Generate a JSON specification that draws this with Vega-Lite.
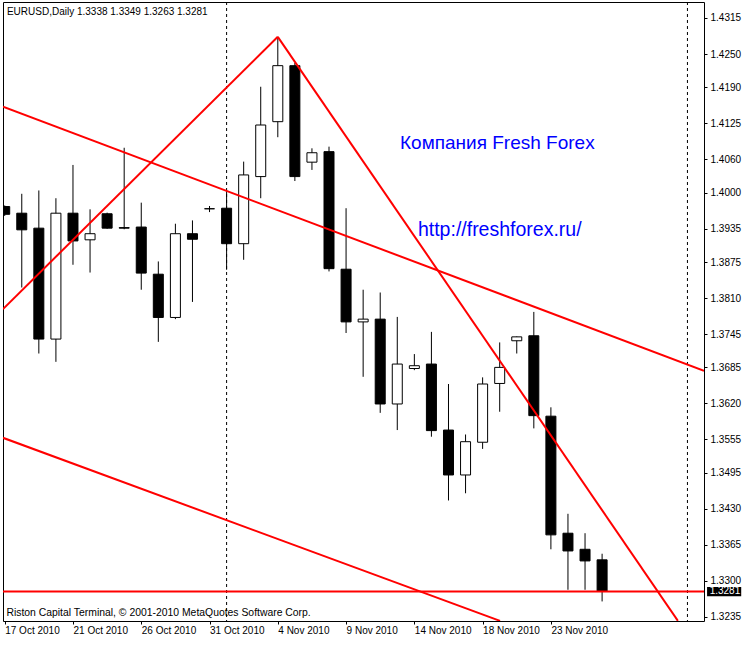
{
  "$schema": "https://vega.github.io/schema/vega-lite/v6.json",
  "width": 701,
  "height": 619,
  "autosize": {"type": "none"},
  "padding": {"left": 3, "top": 2, "right": 45, "bottom": 24},
  "background": "white",
  "config": {
    "view": {"stroke": "black", "strokeWidth": 1},
    "font": "Liberation Sans",
    "scale": {"continuousPadding": 0},
    "axisX": {"tickSize": 3, "tickColor": "black", "labelAlign": "left", "labelBaseline": "top", "labelPadding": 1, "labelFontSize": 10, "labelColor": "black", "labelFont": "Liberation Sans", "labelFlush": false, "labelOverlap": false, "labelBound": false, "domain": false, "grid": false},
    "axisY": {"tickSize": 3, "tickColor": "black", "labelAlign": "left", "labelPadding": 3, "labelFontSize": 10, "labelColor": "black", "labelFont": "Liberation Sans", "labelBaseline": "middle", "labelOverlap": false, "labelBound": false, "labelFlush": false, "domain": false, "grid": false}
  },
  "datasets": {
    "bars": [
      {"i": 0, "d": "17 Oct", "o": 1.3975, "h": 1.3977, "l": 1.3958, "c": 1.3961},
      {"i": 1, "d": "18 Oct", "o": 1.3963, "h": 1.3998, "l": 1.3829, "c": 1.3933},
      {"i": 2, "d": "19 Oct", "o": 1.3936, "h": 1.4004, "l": 1.3710, "c": 1.3736},
      {"i": 3, "d": "20 Oct", "o": 1.3736, "h": 1.3990, "l": 1.3695, "c": 1.3963},
      {"i": 4, "d": "21 Oct", "o": 1.3963, "h": 1.4050, "l": 1.3870, "c": 1.3913},
      {"i": 5, "d": "22 Oct", "o": 1.3915, "h": 1.3970, "l": 1.3856, "c": 1.3926},
      {"i": 6, "d": "24 Oct", "o": 1.3962, "h": 1.3964, "l": 1.3935, "c": 1.3936},
      {"i": 7, "d": "25 Oct", "o": 1.3937, "h": 1.4081, "l": 1.3934, "c": 1.3936},
      {"i": 8, "d": "26 Oct", "o": 1.3938, "h": 1.3982, "l": 1.3825, "c": 1.3855},
      {"i": 9, "d": "27 Oct", "o": 1.3853, "h": 1.3876, "l": 1.3731, "c": 1.3775},
      {"i": 10, "d": "28 Oct", "o": 1.3775, "h": 1.3944, "l": 1.3772, "c": 1.3926},
      {"i": 11, "d": "29 Oct", "o": 1.3926, "h": 1.3950, "l": 1.3803, "c": 1.3916},
      {"i": 12, "d": "31 Oct", "o": 1.3971, "h": 1.3976, "l": 1.3965, "c": 1.3971},
      {"i": 13, "d": "1 Nov", "o": 1.3972, "h": 1.4005, "l": 1.3861, "c": 1.3908},
      {"i": 14, "d": "2 Nov", "o": 1.3908, "h": 1.4056, "l": 1.3879, "c": 1.4032},
      {"i": 15, "d": "3 Nov", "o": 1.4029, "h": 1.4191, "l": 1.3990, "c": 1.4122},
      {"i": 16, "d": "4 Nov", "o": 1.4128, "h": 1.4281, "l": 1.4100, "c": 1.4229},
      {"i": 17, "d": "5 Nov", "o": 1.4229, "h": 1.4234, "l": 1.4021, "c": 1.4029},
      {"i": 18, "d": "7 Nov", "o": 1.4055, "h": 1.4080, "l": 1.4041, "c": 1.4072},
      {"i": 19, "d": "8 Nov", "o": 1.4074, "h": 1.4083, "l": 1.3858, "c": 1.3863},
      {"i": 20, "d": "9 Nov", "o": 1.3862, "h": 1.3972, "l": 1.3747, "c": 1.3767},
      {"i": 21, "d": "10 Nov", "o": 1.3767, "h": 1.3825, "l": 1.3668, "c": 1.3772},
      {"i": 22, "d": "11 Nov", "o": 1.3772, "h": 1.3820, "l": 1.3603, "c": 1.3619},
      {"i": 23, "d": "12 Nov", "o": 1.3619, "h": 1.3776, "l": 1.3572, "c": 1.3691},
      {"i": 24, "d": "14 Nov", "o": 1.3683, "h": 1.3709, "l": 1.3680, "c": 1.3688},
      {"i": 25, "d": "15 Nov", "o": 1.3691, "h": 1.3749, "l": 1.3560, "c": 1.3571},
      {"i": 26, "d": "16 Nov", "o": 1.3572, "h": 1.3655, "l": 1.3445, "c": 1.3491},
      {"i": 27, "d": "17 Nov", "o": 1.3491, "h": 1.3564, "l": 1.3458, "c": 1.3551},
      {"i": 28, "d": "18 Nov", "o": 1.3550, "h": 1.3667, "l": 1.3538, "c": 1.3655},
      {"i": 29, "d": "19 Nov", "o": 1.3656, "h": 1.3730, "l": 1.3605, "c": 1.3685},
      {"i": 30, "d": "21 Nov", "o": 1.3733, "h": 1.3741, "l": 1.3710, "c": 1.3740},
      {"i": 31, "d": "22 Nov", "o": 1.3742, "h": 1.3785, "l": 1.3575, "c": 1.3598},
      {"i": 32, "d": "23 Nov", "o": 1.3597, "h": 1.3613, "l": 1.3357, "c": 1.3383},
      {"i": 33, "d": "24 Nov", "o": 1.3386, "h": 1.3421, "l": 1.3284, "c": 1.3354},
      {"i": 34, "d": "25 Nov", "o": 1.3357, "h": 1.3386, "l": 1.3284, "c": 1.3336},
      {"i": 35, "d": "26 Nov", "o": 1.3338, "h": 1.3349, "l": 1.3263, "c": 1.3281}
    ],
    "trend": [
      {"line": "A", "i": -0.1, "p": 1.3790},
      {"line": "A", "i": 16, "p": 1.4281},
      {"line": "B", "i": 16, "p": 1.4281},
      {"line": "B", "i": 39.44, "p": 1.3228},
      {"line": "C", "i": -0.1, "p": 1.4155},
      {"line": "C", "i": 40.97, "p": 1.3679},
      {"line": "D", "i": -0.1, "p": 1.3558},
      {"line": "D", "i": 29.02, "p": 1.3228},
      {"line": "H", "i": -0.1, "p": 1.3281},
      {"line": "H", "i": 40.97, "p": 1.3281}
    ],
    "seps": [{"i": 13}, {"i": 40}]
  },
  "layer": [
    {
      "data": {"name": "seps"},
      "mark": {"type": "rule", "color": "black", "strokeWidth": 1, "strokeDash": [3, 3]},
      "encoding": {
        "x": {"field": "i", "type": "quantitative", "scale": {"domain": [-0.1, 40.97], "nice": false, "zero": false, "padding": 0},
          "axis": {"title": null, "values": [0, 4, 8, 12, 16, 20, 24, 28, 32], "labelExpr": "['17 Oct 2010','21 Oct 2010','26 Oct 2010','31 Oct 2010','4 Nov 2010','9 Nov 2010','14 Nov 2010','18 Nov 2010','23 Nov 2010'][round(datum.value/4)]"}}
      }
    },
    {
      "data": {"name": "bars"},
      "mark": {"type": "rule", "color": "black", "strokeWidth": 1, "clip": true},
      "encoding": {
        "x": {"field": "i", "type": "quantitative", "scale": {"domain": [-0.1, 40.97], "nice": false, "zero": false, "padding": 0},
          "axis": {"title": null, "values": [0, 4, 8, 12, 16, 20, 24, 28, 32], "labelExpr": "['17 Oct 2010','21 Oct 2010','26 Oct 2010','31 Oct 2010','4 Nov 2010','9 Nov 2010','14 Nov 2010','18 Nov 2010','23 Nov 2010'][round(datum.value/4)]"}},
        "y": {"field": "l", "type": "quantitative", "scale": {"domain": [1.32277, 1.43438], "nice": false, "zero": false, "padding": 0},
          "axis": {"title": null, "orient": "right", "values": [1.4315, 1.425, 1.419, 1.4125, 1.406, 1.4, 1.3935, 1.3875, 1.381, 1.3745, 1.3685, 1.362, 1.3555, 1.3495, 1.343, 1.3365, 1.33, 1.3235], "format": ".4f"}},
        "y2": {"field": "h"}
      }
    },
    {
      "data": {"name": "bars"},
      "mark": {"type": "bar", "width": 10, "stroke": "black", "strokeWidth": 1, "clip": true},
      "encoding": {
        "x": {"field": "i", "type": "quantitative", "scale": {"domain": [-0.1, 40.97], "nice": false, "zero": false, "padding": 0},
          "axis": {"title": null, "values": [0, 4, 8, 12, 16, 20, 24, 28, 32], "labelExpr": "['17 Oct 2010','21 Oct 2010','26 Oct 2010','31 Oct 2010','4 Nov 2010','9 Nov 2010','14 Nov 2010','18 Nov 2010','23 Nov 2010'][round(datum.value/4)]"}},
        "y": {"field": "o", "type": "quantitative", "scale": {"domain": [1.32277, 1.43438], "nice": false, "zero": false, "padding": 0},
          "axis": {"title": null, "orient": "right", "values": [1.4315, 1.425, 1.419, 1.4125, 1.406, 1.4, 1.3935, 1.3875, 1.381, 1.3745, 1.3685, 1.362, 1.3555, 1.3495, 1.343, 1.3365, 1.33, 1.3235], "format": ".4f"}},
        "y2": {"field": "c"},
        "fill": {"condition": {"test": "datum.c < datum.o", "value": "black"}, "value": "white"}
      }
    },
    {
      "data": {"name": "trend"},
      "mark": {"type": "line", "color": "#ff0000", "strokeWidth": 2, "clip": true},
      "encoding": {
        "x": {"field": "i", "type": "quantitative", "scale": {"domain": [-0.1, 40.97], "nice": false, "zero": false, "padding": 0},
          "axis": {"title": null, "values": [0, 4, 8, 12, 16, 20, 24, 28, 32], "labelExpr": "['17 Oct 2010','21 Oct 2010','26 Oct 2010','31 Oct 2010','4 Nov 2010','9 Nov 2010','14 Nov 2010','18 Nov 2010','23 Nov 2010'][round(datum.value/4)]"}},
        "y": {"field": "p", "type": "quantitative", "scale": {"domain": [1.32277, 1.43438], "nice": false, "zero": false, "padding": 0},
          "axis": {"title": null, "orient": "right", "values": [1.4315, 1.425, 1.419, 1.4125, 1.406, 1.4, 1.3935, 1.3875, 1.381, 1.3745, 1.3685, 1.362, 1.3555, 1.3495, 1.343, 1.3365, 1.33, 1.3235], "format": ".4f"}},
        "detail": {"field": "line"}
      }
    },
    {
      "data": {"values": [{"t": "EURUSD,Daily  1.3338 1.3349 1.3263 1.3281"}]},
      "mark": {"type": "text", "align": "left", "baseline": "middle", "font": "Liberation Sans", "fontSize": 10, "color": "black"},
      "encoding": {
        "x": {"datum": 0.13, "type": "quantitative", "scale": {"domain": [-0.1, 40.97], "nice": false, "zero": false, "padding": 0},
          "axis": {"title": null, "values": [0, 4, 8, 12, 16, 20, 24, 28, 32], "labelExpr": "['17 Oct 2010','21 Oct 2010','26 Oct 2010','31 Oct 2010','4 Nov 2010','9 Nov 2010','14 Nov 2010','18 Nov 2010','23 Nov 2010'][round(datum.value/4)]"}},
        "y": {"datum": 1.4326, "type": "quantitative", "scale": {"domain": [1.32277, 1.43438], "nice": false, "zero": false, "padding": 0},
          "axis": {"title": null, "orient": "right", "values": [1.4315, 1.425, 1.419, 1.4125, 1.406, 1.4, 1.3935, 1.3875, 1.381, 1.3745, 1.3685, 1.362, 1.3555, 1.3495, 1.343, 1.3365, 1.33, 1.3235], "format": ".4f"}},
        "text": {"field": "t"}
      }
    },
    {
      "data": {"values": [{"t": "Riston Capital Terminal, © 2001-2010 MetaQuotes Software Corp."}]},
      "mark": {"type": "text", "align": "left", "baseline": "middle", "font": "Liberation Sans", "fontSize": 10.4, "color": "black"},
      "encoding": {
        "x": {"datum": 0.1, "type": "quantitative", "scale": {"domain": [-0.1, 40.97], "nice": false, "zero": false, "padding": 0},
          "axis": {"title": null, "values": [0, 4, 8, 12, 16, 20, 24, 28, 32], "labelExpr": "['17 Oct 2010','21 Oct 2010','26 Oct 2010','31 Oct 2010','4 Nov 2010','9 Nov 2010','14 Nov 2010','18 Nov 2010','23 Nov 2010'][round(datum.value/4)]"}},
        "y": {"datum": 1.3242, "type": "quantitative", "scale": {"domain": [1.32277, 1.43438], "nice": false, "zero": false, "padding": 0},
          "axis": {"title": null, "orient": "right", "values": [1.4315, 1.425, 1.419, 1.4125, 1.406, 1.4, 1.3935, 1.3875, 1.381, 1.3745, 1.3685, 1.362, 1.3555, 1.3495, 1.343, 1.3365, 1.33, 1.3235], "format": ".4f"}},
        "text": {"field": "t"}
      }
    },
    {
      "data": {"values": [{"t": "Компания Fresh Forex"}]},
      "mark": {"type": "text", "align": "left", "baseline": "middle", "font": "Liberation Sans", "fontSize": 19, "color": "#0000ff"},
      "encoding": {
        "x": {"datum": 23.16, "type": "quantitative", "scale": {"domain": [-0.1, 40.97], "nice": false, "zero": false, "padding": 0},
          "axis": {"title": null, "values": [0, 4, 8, 12, 16, 20, 24, 28, 32], "labelExpr": "['17 Oct 2010','21 Oct 2010','26 Oct 2010','31 Oct 2010','4 Nov 2010','9 Nov 2010','14 Nov 2010','18 Nov 2010','23 Nov 2010'][round(datum.value/4)]"}},
        "y": {"datum": 1.4090, "type": "quantitative", "scale": {"domain": [1.32277, 1.43438], "nice": false, "zero": false, "padding": 0},
          "axis": {"title": null, "orient": "right", "values": [1.4315, 1.425, 1.419, 1.4125, 1.406, 1.4, 1.3935, 1.3875, 1.381, 1.3745, 1.3685, 1.362, 1.3555, 1.3495, 1.343, 1.3365, 1.33, 1.3235], "format": ".4f"}},
        "text": {"field": "t"}
      }
    },
    {
      "data": {"values": [{"t": "http://freshforex.ru/"}]},
      "mark": {"type": "text", "align": "left", "baseline": "middle", "font": "Liberation Sans", "fontSize": 19.5, "color": "#0000ff"},
      "encoding": {
        "x": {"datum": 24.21, "type": "quantitative", "scale": {"domain": [-0.1, 40.97], "nice": false, "zero": false, "padding": 0},
          "axis": {"title": null, "values": [0, 4, 8, 12, 16, 20, 24, 28, 32], "labelExpr": "['17 Oct 2010','21 Oct 2010','26 Oct 2010','31 Oct 2010','4 Nov 2010','9 Nov 2010','14 Nov 2010','18 Nov 2010','23 Nov 2010'][round(datum.value/4)]"}},
        "y": {"datum": 1.3933, "type": "quantitative", "scale": {"domain": [1.32277, 1.43438], "nice": false, "zero": false, "padding": 0},
          "axis": {"title": null, "orient": "right", "values": [1.4315, 1.425, 1.419, 1.4125, 1.406, 1.4, 1.3935, 1.3875, 1.381, 1.3745, 1.3685, 1.362, 1.3555, 1.3495, 1.343, 1.3365, 1.33, 1.3235], "format": ".4f"}},
        "text": {"field": "t"}
      }
    },
    {
      "data": {"values": [{"t": "1.3281"}]},
      "mark": {"type": "rect", "color": "black", "clip": false},
      "encoding": {
        "x": {"datum": 41.15, "type": "quantitative", "scale": {"domain": [-0.1, 40.97], "nice": false, "zero": false, "padding": 0},
          "axis": {"title": null, "values": [0, 4, 8, 12, 16, 20, 24, 28, 32], "labelExpr": "['17 Oct 2010','21 Oct 2010','26 Oct 2010','31 Oct 2010','4 Nov 2010','9 Nov 2010','14 Nov 2010','18 Nov 2010','23 Nov 2010'][round(datum.value/4)]"}},
        "x2": {"datum": 43.15},
        "y": {"datum": 1.3289, "type": "quantitative", "scale": {"domain": [1.32277, 1.43438], "nice": false, "zero": false, "padding": 0},
          "axis": {"title": null, "orient": "right", "values": [1.4315, 1.425, 1.419, 1.4125, 1.406, 1.4, 1.3935, 1.3875, 1.381, 1.3745, 1.3685, 1.362, 1.3555, 1.3495, 1.343, 1.3365, 1.33, 1.3235], "format": ".4f"}},
        "y2": {"datum": 1.32725}
      }
    },
    {
      "data": {"values": [{"t": "1.3281"}]},
      "mark": {"type": "text", "align": "left", "baseline": "middle", "font": "Liberation Sans", "fontSize": 10, "color": "white", "clip": false},
      "encoding": {
        "x": {"datum": 41.3, "type": "quantitative", "scale": {"domain": [-0.1, 40.97], "nice": false, "zero": false, "padding": 0},
          "axis": {"title": null, "values": [0, 4, 8, 12, 16, 20, 24, 28, 32], "labelExpr": "['17 Oct 2010','21 Oct 2010','26 Oct 2010','31 Oct 2010','4 Nov 2010','9 Nov 2010','14 Nov 2010','18 Nov 2010','23 Nov 2010'][round(datum.value/4)]"}},
        "y": {"datum": 1.3281, "type": "quantitative", "scale": {"domain": [1.32277, 1.43438], "nice": false, "zero": false, "padding": 0},
          "axis": {"title": null, "orient": "right", "values": [1.4315, 1.425, 1.419, 1.4125, 1.406, 1.4, 1.3935, 1.3875, 1.381, 1.3745, 1.3685, 1.362, 1.3555, 1.3495, 1.343, 1.3365, 1.33, 1.3235], "format": ".4f"}},
        "text": {"field": "t"}
      }
    }
  ]
}
